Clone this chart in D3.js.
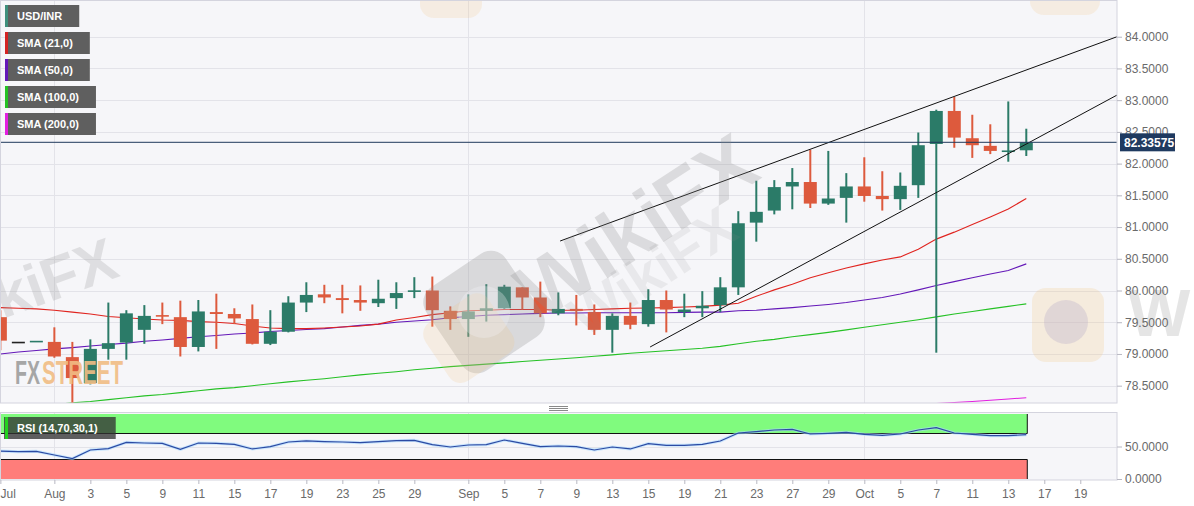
<!DOCTYPE html>
<html>
<head>
<meta charset="utf-8">
<script src="https://cdn.jsdelivr.net/npm/d3@7"></script>
<style>
  html, body { margin: 0; padding: 0; background: #fff; }
  #wrapper svg { display: block; font-family: "Liberation Sans", Arial, sans-serif; }
</style>
</head>
<body>
<div id="wrapper"></div>
<script>
// USD/INR daily candles, Jul 27 - Oct 14
const days = ["Jul 27","Jul 28","Jul 29","Aug 1","Aug 2","Aug 3","Aug 4","Aug 5","Aug 8","Aug 9",
    "Aug 10","Aug 11","Aug 12","Aug 15","Aug 16","Aug 17","Aug 18","Aug 19","Aug 22","Aug 23",
    "Aug 24","Aug 25","Aug 26","Aug 29","Aug 30","Aug 31","Sep 1","Sep 2","Sep 5","Sep 6",
    "Sep 7","Sep 8","Sep 9","Sep 12","Sep 13","Sep 14","Sep 15","Sep 16","Sep 19","Sep 20",
    "Sep 21","Sep 22","Sep 23","Sep 26","Sep 27","Sep 28","Sep 29","Sep 30","Oct 3","Oct 4",
    "Oct 5","Oct 6","Oct 7","Oct 10","Oct 11","Oct 12","Oct 13","Oct 14"];

const open = [79.58, 79.18, 79.19, 79.19, 78.95, 78.54, 79.08, 79.18, 79.38, 79.61,
    79.58, 79.11, 79.66, 79.63, 79.55, 79.16, 79.35, 79.81, 79.94, 79.88,
    79.85, 79.80, 79.88, 79.98, 80.00, 79.68, 79.55, 79.68, 79.72, 80.05,
    79.89, 79.64, 79.71, 79.66, 79.38, 79.60, 79.47, 79.85, 79.66, 79.72,
    79.77, 80.05, 81.07, 81.26, 81.64, 81.71, 81.37, 81.46, 81.64, 81.49,
    81.44, 81.66, 82.31, 82.83, 82.40, 82.28, 82.19, 82.21];
const high = [79.69, 79.18, 79.20, 79.42, 79.19, 79.23, 79.81, 79.69, 79.77, 79.81,
    79.84, 79.85, 79.95, 79.72, 79.78, 79.69, 79.91, 80.13, 80.09, 80.09,
    80.08, 80.17, 80.13, 80.21, 80.22, 79.75, 79.94, 80.10, 80.09, 80.05,
    80.14, 79.97, 79.93, 79.78, 79.64, 79.81, 80.02, 80.00, 79.95, 79.99,
    80.21, 81.25, 81.73, 81.74, 81.93, 82.22, 82.20, 81.85, 82.10, 81.88,
    81.86, 82.49, 82.85, 83.05, 82.77, 82.62, 82.98, 82.55];
const low = [79.06, 79.18, 79.19, 78.94, 78.20, 78.52, 78.91, 78.91, 79.16, 79.47,
    78.96, 79.04, 79.08, 79.47, 79.15, 79.14, 79.34, 79.66, 79.80, 79.64,
    79.68, 79.74, 79.71, 79.88, 79.43, 79.38, 79.27, 79.51, 79.71, 79.70,
    79.58, 79.61, 79.45, 79.30, 79.02, 79.39, 79.43, 79.34, 79.58, 79.58,
    79.66, 79.93, 80.77, 81.20, 81.28, 81.30, 81.35, 81.07, 81.40, 81.26,
    81.27, 81.46, 79.02, 82.25, 82.09, 82.15, 82.03, 82.12];
const close = [79.21, 79.18, 79.20, 78.96, 78.62, 79.08, 79.17, 79.64, 79.60, 79.59,
    79.11, 79.67, 79.63, 79.56, 79.16, 79.35, 79.81, 79.93, 79.89, 79.85,
    79.81, 79.87, 79.96, 80.00, 79.69, 79.55, 79.67, 79.72, 80.06, 79.89,
    79.64, 79.71, 79.68, 79.38, 79.60, 79.46, 79.85, 79.70, 79.70, 79.76,
    80.05, 81.06, 81.24, 81.63, 81.71, 81.37, 81.45, 81.64, 81.49, 81.44,
    81.65, 82.29, 82.83, 82.41, 82.29, 82.20, 82.20, 82.33575];

const sma21 = [79.73, 79.72, 79.71, 79.69, 79.66, 79.63, 79.59, 79.57, 79.55, 79.535,
    79.53, 79.51, 79.50, 79.48, 79.44, 79.41, 79.40, 79.40, 79.41, 79.425,
    79.44, 79.47, 79.535, 79.575, 79.62, 79.65, 79.68, 79.69, 79.70, 79.70,
    79.70, 79.69, 79.69, 79.70, 79.71, 79.72, 79.725, 79.73, 79.74, 79.75,
    79.77, 79.80, 79.91, 80.01, 80.10, 80.20, 80.28, 80.355, 80.42, 80.48,
    80.53, 80.65, 80.81, 80.92, 81.04, 81.16, 81.285, 81.45];
const sma50 = [79.00, 79.03, 79.055, 79.08, 79.10, 79.125, 79.15, 79.17, 79.20, 79.22,
    79.245, 79.27, 79.29, 79.315, 79.33, 79.355, 79.37, 79.385, 79.40, 79.425,
    79.45, 79.47, 79.50, 79.52, 79.54, 79.57, 79.59, 79.61, 79.62, 79.63,
    79.64, 79.645, 79.645, 79.65, 79.65, 79.65, 79.65, 79.65, 79.655, 79.66,
    79.66, 79.68, 79.69, 79.71, 79.73, 79.755, 79.78, 79.81, 79.85, 79.89,
    79.945, 80.01, 80.08, 80.14, 80.20, 80.26, 80.315, 80.42];
const sma100 = [78.12, 78.14, 78.17, 78.20, 78.23, 78.25, 78.28, 78.31, 78.34, 78.36,
    78.39, 78.42, 78.45, 78.47, 78.50, 78.53, 78.56, 78.585, 78.61, 78.64,
    78.67, 78.695, 78.72, 78.75, 78.775, 78.80, 78.82, 78.84, 78.86, 78.88,
    78.90, 78.92, 78.94, 78.965, 78.985, 79.01, 79.03, 79.05, 79.07, 79.09,
    79.12, 79.16, 79.20, 79.23, 79.27, 79.305, 79.34, 79.38, 79.42, 79.46,
    79.50, 79.54, 79.585, 79.63, 79.67, 79.71, 79.75, 79.79];
// SMA 200 only shows up at the bottom edge for the last few sessions
const sma200Start = 51;
const sma200 = [78.20, 78.22, 78.235, 78.25, 78.27, 78.29, 78.31];

const rsi = [43, 42, 42.6, 36.9, 31.3, 44.6, 46.7, 56.4, 55.4, 54.9,
    45.6, 55.4, 54.9, 53.3, 46.2, 49.7, 56.9, 58.5, 57.4, 56.9,
    55.9, 57.4, 59, 59.5, 52.8, 49.2, 52.3, 52.8, 60, 54.9,
    49.7, 50.8, 49.7, 44.6, 49.2, 46.2, 54.4, 51.8, 51.8, 53.3,
    58.5, 70.8, 72.8, 75.4, 76.4, 69.2, 70.3, 71.8, 68.7, 67.2,
    69.2, 75.4, 79, 70.8, 68.7, 66.6, 66.6, 68.2];

// rising wedge lines: [session index, price]
const wedgeUpper = [[31.1, 80.78], [62.04, 84.0]];
const wedgeLower = [[36.1, 79.11], [62.04, 83.08]];

const lastPrice = 82.33575;

const priceTicks = [78.5, 79.0, 79.5, 80.0, 80.5, 81.0, 81.5, 82.0, 82.5, 83.0, 83.5, 84.0];
const rsiTicks = [0, 50];
const rsiLevels = [30, 70];
// session index of each date label (17 and 19 Oct lie in the empty space to the right)
const tickPos = [0, 3, 5, 7, 9, 11, 13, 15, 17, 19, 21, 23, 26, 28, 30, 32, 34, 36, 38, 40, 42, 44, 46, 48, 50, 52, 54, 56, 58, 60];
const tickLabels = ["Jul", "Aug", "3", "5", "9", "11", "15", "17", "19", "23", "25", "29", "Sep", "5", "7", "9", "13", "15", "19", "21", "23", "27", "29", "Oct", "5", "7", "11", "13", "17", "19"];
const monthPos = [3, 26, 48];

const legendNames = ["USD/INR", "SMA (21,0)", "SMA (50,0)", "SMA (100,0)", "SMA (200,0)"];
const rsiName = "RSI (14,70,30,1)";

const colors = {
    up: "#2b7b68",
    down: "#dd5a3d",
    doji: "#222",
    sma21: "#e0241f",
    sma50: "#6418b8",
    sma100: "#25c125",
    sma200: "#e21fe0",
    legend: ["#3f8f7c", "#d42323", "#6418b8", "#25c125", "#e21fe0"],
};

function drawChart() {
    const dimensions = {
        width: 1194,
        height: 506,
        plotWidth: 1117,
        mainTop: 1,
        mainBottom: 403,
        rsiTop: 412,
        rsiBottom: 480,
    };

    const candles = days.map((d, i) => ({
        i: i, day: d, o: open[i], h: high[i], l: low[i], c: close[i],
    }));

    const wrapper = d3.select("#wrapper").html("")
        .append("svg")
        .attr("width", dimensions.width)
        .attr("height", dimensions.height);

    wrapper.append("rect")
        .attr("width", dimensions.width)
        .attr("height", dimensions.height)
        .attr("fill", "#fff");

    const xScaler = d3.scaleLinear()
        .domain([-0.02, 62.04])
        .range([0, dimensions.plotWidth]);
    const yScaler = d3.scaleLinear()
        .domain([78.227, 84.563])
        .range([dimensions.mainBottom, dimensions.mainTop]);
    const rsiScaler = d3.scaleLinear()
        .domain([0, 100])
        .range([dimensions.rsiBottom - 1, dimensions.rsiTop + 2]);

    const defs = wrapper.append("defs");
    defs.append("clipPath").attr("id", "clip-main")
        .append("rect")
        .attr("x", 0).attr("y", dimensions.mainTop)
        .attr("width", dimensions.plotWidth)
        .attr("height", dimensions.mainBottom - dimensions.mainTop);
    defs.append("clipPath").attr("id", "clip-rsi")
        .append("rect")
        .attr("x", 0).attr("y", dimensions.rsiTop)
        .attr("width", dimensions.plotWidth)
        .attr("height", dimensions.rsiBottom - dimensions.rsiTop);

    // panel backgrounds
    wrapper.append("rect")
        .attr("x", 0).attr("y", dimensions.mainTop)
        .attr("width", dimensions.plotWidth)
        .attr("height", dimensions.mainBottom - dimensions.mainTop)
        .attr("fill", "#f6f6f9");
    wrapper.append("rect")
        .attr("x", 0).attr("y", dimensions.rsiTop)
        .attr("width", dimensions.plotWidth)
        .attr("height", dimensions.rsiBottom - dimensions.rsiTop)
        .attr("fill", "#f6f6f9");

    // grid
    const grid = wrapper.append("g").attr("stroke", "#e3e3e9").attr("stroke-width", 1);
    grid.selectAll(".hgrid")
        .data(priceTicks)
        .enter()
        .append("line")
        .attr("x1", 0).attr("x2", dimensions.plotWidth)
        .attr("y1", d => Math.round(yScaler(d)) + 0.5)
        .attr("y2", d => Math.round(yScaler(d)) + 0.5);
    grid.selectAll(".rgrid")
        .data(rsiTicks.filter(d => d > 0))
        .enter()
        .append("line")
        .attr("x1", 0).attr("x2", dimensions.plotWidth)
        .attr("y1", d => Math.round(rsiScaler(d)) + 0.5)
        .attr("y2", d => Math.round(rsiScaler(d)) + 0.5);
    grid.selectAll(".vgrid")
        .data(monthPos)
        .enter()
        .append("line")
        .attr("x1", d => Math.round(xScaler(d)) + 0.5)
        .attr("x2", d => Math.round(xScaler(d)) + 0.5)
        .attr("y1", dimensions.mainTop).attr("y2", dimensions.mainBottom);
    grid.selectAll(".vgrid2")
        .data(monthPos)
        .enter()
        .append("line")
        .attr("x1", d => Math.round(xScaler(d)) + 0.5)
        .attr("x2", d => Math.round(xScaler(d)) + 0.5)
        .attr("y1", dimensions.rsiTop).attr("y2", dimensions.rsiBottom);

    const bounds = wrapper.append("g").attr("clip-path", "url(#clip-main)");

    // moving averages
    const smaLine = d3.line()
        .x((d, i) => xScaler(i))
        .y(d => yScaler(d));
    [["sma100", sma100], ["sma50", sma50], ["sma21", sma21]].forEach(([key, values]) => {
        bounds.append("path")
            .attr("d", smaLine(values))
            .attr("fill", "none")
            .attr("stroke", colors[key])
            .attr("stroke-width", 1.1);
    });
    bounds.append("path")
        .attr("d", d3.line()
            .x((d, i) => xScaler(sma200Start + i))
            .y(d => yScaler(d))(sma200))
        .attr("fill", "none")
        .attr("stroke", colors.sma200)
        .attr("stroke-width", 1.1);

    // candles
    const candleColor = d => d.c > d.o ? colors.up : (d.c < d.o ? colors.down : colors.doji);
    const bodyWidth = 13;
    const candleGroups = bounds.append("g")
        .selectAll("g")
        .data(candles)
        .enter()
        .append("g");
    candleGroups.append("line")
        .attr("x1", d => xScaler(d.i))
        .attr("x2", d => xScaler(d.i))
        .attr("y1", d => yScaler(d.h))
        .attr("y2", d => yScaler(d.l))
        .attr("stroke", candleColor)
        .attr("stroke-width", 2);
    candleGroups.append("rect")
        .attr("x", d => xScaler(d.i) - bodyWidth / 2)
        .attr("width", bodyWidth)
        .attr("y", d => {
            const top = yScaler(Math.max(d.o, d.c));
            const hgt = Math.abs(yScaler(d.o) - yScaler(d.c));
            return hgt < 1.6 ? top - (1.6 - hgt) / 2 : top;
        })
        .attr("height", d => Math.max(1.6, Math.abs(yScaler(d.o) - yScaler(d.c))))
        .attr("fill", candleColor);

    // wedge
    const wedgeLine = d3.line()
        .x(d => xScaler(d[0]))
        .y(d => yScaler(d[1]));
    [wedgeUpper, wedgeLower].forEach(pts => {
        bounds.append("path")
            .attr("d", wedgeLine(pts))
            .attr("fill", "none")
            .attr("stroke", "#111")
            .attr("stroke-width", 1);
    });

    // last price line
    wrapper.append("line")
        .attr("x1", 0).attr("x2", dimensions.plotWidth)
        .attr("y1", yScaler(lastPrice)).attr("y2", yScaler(lastPrice))
        .attr("stroke", "#203a5c")
        .attr("stroke-width", 1);

    // watermarks
    const wm = wrapper.append("g").attr("pointer-events", "none");
    wm.append("rect")
        .attr("x", 420).attr("y", -60).attr("width", 62).attr("height", 78).attr("rx", 14)
        .attr("fill", "#f3c27c").attr("opacity", 0.18);
    wm.append("rect")
        .attr("x", 1030).attr("y", -60).attr("width", 70).attr("height", 75).attr("rx", 14)
        .attr("fill", "#f3c27c").attr("opacity", 0.18);
    wm.append("rect")
        .attr("x", 1032).attr("y", 288).attr("width", 72).attr("height", 74).attr("rx", 14)
        .attr("fill", "#f3c27c").attr("opacity", 0.22);
    wm.append("circle")
        .attr("cx", 1066).attr("cy", 322).attr("r", 22)
        .attr("fill", "#b9b0c8").attr("opacity", 0.35);
    wm.append("text")
        .attr("x", 1128).attr("y", 336)
        .attr("font-size", 66).attr("font-weight", "bold")
        .attr("fill", "#8e8e8e").attr("opacity", 0.22)
        .text("Wi");
    wm.append("text")
        .attr("transform", "translate(-66,344) rotate(-20)")
        .attr("font-size", 60).attr("font-weight", "bold")
        .attr("fill", "#8e8e8e").attr("opacity", 0.22)
        .text("WikiFX");
    wm.append("rect")
        .attr("transform", "translate(484,312) rotate(-34)")
        .attr("x", -48).attr("y", -50).attr("width", 96).attr("height", 100).attr("rx", 18)
        .attr("fill", "#8e8e8e").attr("opacity", 0.28);
    wm.append("rect")
        .attr("transform", "translate(466,334) rotate(-34)")
        .attr("x", -38).attr("y", -30).attr("width", 76).attr("height", 70).attr("rx", 14)
        .attr("fill", "#f3c27c").attr("opacity", 0.18);
    wm.append("circle")
        .attr("cx", 484).attr("cy", 312).attr("r", 26)
        .attr("fill", "#f6f6f9").attr("opacity", 0.3);
    wm.append("text")
        .attr("transform", "translate(540,322) rotate(-33)")
        .attr("font-size", 80).attr("font-weight", "bold")
        .attr("fill", "#8a8a8a").attr("opacity", 0.24)
        .text("WikiFX");
    wm.append("text")
        .attr("transform", "translate(585,338) rotate(-33)")
        .attr("font-size", 56).attr("font-weight", "bold")
        .attr("fill", "#8a8a8a").attr("opacity", 0.12)
        .text("WikiFX");

    // FXStreet logo
    wm.append("text")
        .attr("x", 15).attr("y", 384)
        .attr("font-size", 34).attr("font-weight", "bold")
        .attr("textLength", 25).attr("lengthAdjust", "spacingAndGlyphs")
        .attr("fill", "#a6a6a6")
        .text("FX");
    wm.append("text")
        .attr("x", 42).attr("y", 384)
        .attr("font-size", 34).attr("font-weight", "bold")
        .attr("textLength", 81).attr("lengthAdjust", "spacingAndGlyphs")
        .attr("fill", "#f1bd84").attr("opacity", 0.9)
        .text("STREET");

    // RSI panel
    const rsiBounds = wrapper.append("g").attr("clip-path", "url(#clip-rsi)");
    const bandEnd = xScaler(days.length - 1) + 1;
    rsiBounds.append("rect")
        .attr("x", 0).attr("width", bandEnd)
        .attr("y", rsiScaler(100))
        .attr("height", rsiScaler(rsiLevels[1]) - rsiScaler(100))
        .attr("fill", "#80fb7e");
    rsiBounds.append("rect")
        .attr("x", 0).attr("width", bandEnd)
        .attr("y", rsiScaler(rsiLevels[0]))
        .attr("height", rsiScaler(0) - rsiScaler(rsiLevels[0]))
        .attr("fill", "#ff7d7a");
    const bandEdges = rsiBounds.append("g").attr("stroke", "#111").attr("stroke-width", 1).attr("fill", "none");
    bandEdges.append("path")
        .attr("d", `M0.5,${rsiScaler(100)} V${rsiScaler(rsiLevels[1])} H${bandEnd} V${rsiScaler(100)}`);
    bandEdges.append("path")
        .attr("d", `M0.5,${rsiScaler(0)} V${rsiScaler(rsiLevels[0])} H${bandEnd} V${rsiScaler(0)}`);

    const rsiLine = d3.line()
        .x((d, i) => xScaler(i))
        .y(d => rsiScaler(d));
    rsiBounds.append("path")
        .attr("d", rsiLine(rsi))
        .attr("fill", "none")
        .attr("stroke", "#a9d8ff")
        .attr("stroke-width", 3)
        .attr("opacity", 0.6);
    rsiBounds.append("path")
        .attr("d", rsiLine(rsi))
        .attr("fill", "none")
        .attr("stroke", "#2c4aa3")
        .attr("stroke-width", 1.2);

    // panel borders
    const borders = wrapper.append("g").attr("fill", "none").attr("stroke", "#d4d4de");
    borders.append("rect")
        .attr("x", 0.5).attr("y", dimensions.mainTop - 0.5)
        .attr("width", dimensions.plotWidth - 0.5)
        .attr("height", dimensions.mainBottom - dimensions.mainTop + 0.5);
    borders.append("rect")
        .attr("x", 0.5).attr("y", dimensions.rsiTop + 0.5)
        .attr("width", dimensions.plotWidth - 0.5)
        .attr("height", dimensions.rsiBottom - dimensions.rsiTop - 0.5);

    // splitter grip
    wrapper.append("g")
        .attr("stroke", "#8a8a8a")
        .selectAll("line")
        .data([0, 1, 2])
        .enter()
        .append("line")
        .attr("x1", 549).attr("x2", 568)
        .attr("y1", d => 406.5 + d * 2).attr("y2", d => 406.5 + d * 2);

    // price axis
    const yAxisGen = d3.axisRight(yScaler)
        .tickValues(priceTicks)
        .tickFormat(d3.format(".4f"))
        .tickSize(5)
        .tickPadding(3);
    const yAxis = wrapper.append("g")
        .attr("transform", `translate(${dimensions.plotWidth},0)`)
        .call(yAxisGen);
    yAxis.select(".domain").remove();

    const rsiAxisGen = d3.axisRight(rsiScaler)
        .tickValues(rsiTicks)
        .tickFormat(d3.format(".4f"))
        .tickSize(5)
        .tickPadding(3);
    const rsiAxis = wrapper.append("g")
        .attr("transform", `translate(${dimensions.plotWidth},0)`)
        .call(rsiAxisGen);
    rsiAxis.select(".domain").remove();

    // date axis
    const xAxisGen = d3.axisBottom(xScaler)
        .tickValues(tickPos)
        .tickFormat((d, i) => tickLabels[i])
        .tickSize(4)
        .tickPadding(5);
    const xAxis = wrapper.append("g")
        .attr("transform", `translate(0,${dimensions.rsiBottom})`)
        .call(xAxisGen);
    xAxis.select(".domain").remove();
    xAxis.selectAll(".tick text").filter((d, i) => i === 0)
        .attr("text-anchor", "start")
        .attr("x", -0.3);

    [yAxis, rsiAxis, xAxis].forEach(ax => {
        ax.attr("font-family", "'Liberation Sans', Arial, sans-serif")
            .attr("font-size", 12);
        ax.selectAll(".tick line").attr("stroke", "#b8b8c2");
        ax.selectAll(".tick text").attr("fill", "#6a6a6a");
    });

    // last price tag
    const tag = wrapper.append("g")
        .attr("transform", `translate(${dimensions.plotWidth + 3},${yScaler(lastPrice)})`);
    tag.append("rect")
        .attr("x", 0).attr("y", -9)
        .attr("width", 55).attr("height", 18)
        .attr("fill", "#1f3a60");
    tag.append("text")
        .attr("x", 4).attr("y", 0)
        .attr("dy", "0.35em")
        .attr("font-size", 12)
        .attr("font-weight", "bold")
        .attr("fill", "#fff")
        .text(d3.format(".5f")(lastPrice));

    // legend
    const legend = wrapper.append("g");
    legendNames.forEach((name, i) => {
        const item = legend.append("g").attr("transform", `translate(5,${5 + i * 27})`);
        const box = item.append("rect")
            .attr("height", 22)
            .attr("fill", "#5f5f5f");
        item.append("rect")
            .attr("width", 3).attr("height", 22)
            .attr("fill", colors.legend[i]);
        const label = item.append("text")
            .attr("x", 12).attr("y", 11)
            .attr("dy", "0.35em")
            .attr("font-size", 11)
            .attr("font-weight", "bold")
            .attr("fill", "#fff")
            .text(name);
        box.attr("width", label.node().getComputedTextLength() + 29);
    });

    const rsiLegend = wrapper.append("g").attr("transform", `translate(4,417)`);
    const rsiBox = rsiLegend.append("rect")
        .attr("height", 22)
        .attr("fill", "#333")
        .attr("opacity", 0.78);
    rsiLegend.append("rect")
        .attr("x", 1).attr("width", 3).attr("height", 22)
        .attr("fill", "#23d21f");
    const rsiLabel = rsiLegend.append("text")
        .attr("x", 13).attr("y", 11)
        .attr("dy", "0.35em")
        .attr("font-size", 11)
        .attr("font-weight", "bold")
        .attr("fill", "#fff")
        .text(rsiName);
    rsiBox.attr("width", rsiLabel.node().getComputedTextLength() + 31);
}

drawChart();
</script>
</body>
</html>
